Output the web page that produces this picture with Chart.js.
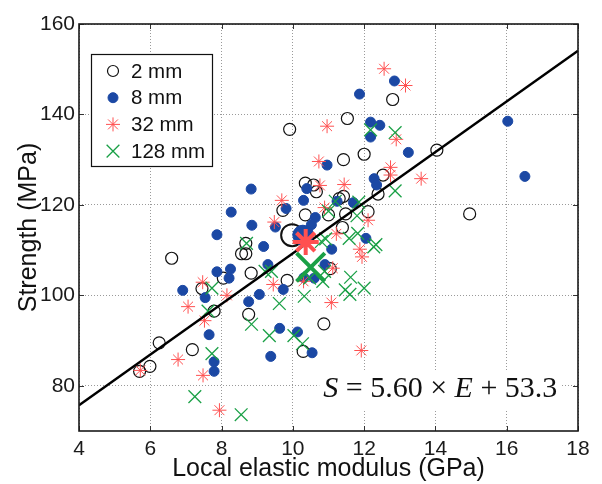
<!DOCTYPE html>
<html>
<head>
<meta charset="utf-8">
<script src="https://cdn.jsdelivr.net/npm/chart.js@4/dist/chart.umd.min.js"></script>
<style>
  html, body { margin: 0; padding: 0; background: #fff; }
  #wrap { width: 602px; height: 484px; position: relative; }
</style>
</head>
<body>
<div id="wrap"><canvas id="c" width="602" height="484"></canvas></div>
<script>
// Axis ticks
const xTicks = [4, 6, 8, 10, 12, 14, 16, 18];
const yTicks = [80, 100, 120, 140, 160];
const seriesNames = ['2 mm', '8 mm', '32 mm', '128 mm'];

// 2 mm specimens: local modulus (GPa) / strength (MPa)
const e2 = [12.80, 11.53, 9.91, 14.04, 12.00, 11.42, 12.53, 10.35, 10.58, 10.66, 11.42, 12.39, 12.11, 11.48, 10.35, 11.00, 14.96, 9.72, 11.39, 8.68, 8.56, 8.68, 6.60, 11.05, 8.83, 8.05, 9.84, 7.45, 7.79, 8.76, 10.87, 6.25, 7.18, 10.29, 5.99, 5.70, 11.30];
const s2 = [143.3, 139.1, 136.7, 132.1, 131.2, 130.0, 126.6, 124.8, 124.4, 122.9, 121.9, 122.4, 118.5, 118.0, 117.8, 117.8, 118.0, 118.8, 115.0, 111.5, 109.2, 109.2, 108.2, 105.9, 104.9, 103.8, 103.3, 101.5, 96.5, 95.8, 93.7, 89.5, 88.0, 87.6, 84.3, 83.2, 121.4];

// 8 mm specimens
const e8 = [12.85, 11.87, 12.18, 12.44, 12.18, 13.24, 10.96, 16.03, 16.51, 12.28, 12.35, 10.39, 8.83, 10.30, 11.24, 11.70, 9.81, 8.27, 10.63, 10.52, 8.85, 9.51, 7.87, 12.05, 9.18, 11.09, 6.91, 7.87, 8.25, 8.21, 9.30, 10.90, 10.31, 10.60, 9.73, 9.06, 7.54, 8.76, 7.65, 9.63, 10.13, 9.38, 10.54, 7.79, 7.79, 10.15, 10.26, 10.42];
const s8 = [147.4, 144.5, 138.3, 137.6, 135.0, 131.6, 128.8, 138.5, 126.3, 125.8, 124.4, 123.6, 123.5, 121.0, 120.8, 120.5, 119.2, 118.4, 117.2, 115.6, 115.5, 115.1, 113.4, 112.6, 110.8, 110.2, 101.1, 105.2, 105.8, 103.8, 106.8, 106.8, 103.9, 103.8, 101.3, 100.2, 99.5, 98.6, 91.3, 92.7, 91.9, 86.5, 87.3, 85.3, 83.2, 113.6, 114.3, 114.0];

// 32 mm specimens
const e32 = [12.56, 13.16, 10.96, 12.90, 10.73, 12.74, 12.74, 13.60, 11.44, 10.76, 9.69, 10.89, 9.48, 12.11, 11.22, 11.88, 11.94, 9.45, 10.30, 8.15, 7.47, 7.06, 7.52, 11.08, 11.92, 6.78, 7.48, 7.94, 5.72, 11.12];
const s32 = [150.1, 146.4, 137.4, 134.5, 129.6, 128.3, 126.6, 125.8, 124.5, 124.3, 121.0, 119.4, 116.2, 116.6, 113.6, 110.2, 108.5, 102.4, 103.1, 100.0, 102.9, 97.5, 94.4, 98.4, 87.8, 85.8, 82.3, 74.6, 83.4, 106.0];

// 128 mm specimens
const e128 = [12.18, 12.87, 12.87, 11.19, 11.85, 11.00, 11.80, 11.82, 10.92, 12.27, 12.33, 8.70, 7.73, 7.62, 9.22, 9.40, 11.62, 10.47, 10.84, 11.47, 11.60, 12.00, 10.32, 9.62, 8.84, 9.34, 10.03, 10.27, 7.73, 7.25, 8.55, 10.80, 11.58, 10.89];
const s128 = [136.6, 136.0, 123.1, 120.8, 120.6, 118.6, 117.6, 113.7, 112.5, 110.7, 111.2, 111.5, 101.6, 96.5, 105.3, 105.3, 104.0, 103.8, 103.1, 101.2, 100.2, 101.6, 99.8, 98.2, 93.6, 91.1, 91.1, 89.3, 87.1, 77.6, 73.6, 111.9, 112.6, 105.3];

// Group means, one per gauge length
const meanE = [9.98, 10.28, 10.36, 10.50];
const meanS = [113.3, 113.3, 111.8, 106.2];

// Linear fit S = a*E + b
const fitSlope = 5.60;
const fitIntercept = 53.3;

const colBlack = '#111111';
const colBlue = '#1b48a4';
const colRed = '#ff5050';
const colGreen = '#1aa046';
const tickFont = { family: '"Liberation Sans", Arial, sans-serif', size: 21 };
const titleFont = { family: '"Liberation Sans", Arial, sans-serif', size: 25 };
const plotRight = 589;

const zip = (xs, ys) => xs.map((x, i) => ({ x: x, y: ys[i] }));
const fitPoints = [xTicks[0], xTicks[xTicks.length - 1]].map(e => ({ x: e, y: fitSlope * e + fitIntercept }));

// Black frame and inward tick marks
const frame = {
  id: 'frame',
  afterDatasetsDraw(chart) {
    const { ctx, chartArea: a, scales } = chart;
    ctx.save();
    ctx.strokeStyle = '#333';
    ctx.lineWidth = 1;
    ctx.beginPath();
    const tl = 5;
    xTicks.forEach(v => {
      const px = Math.round(scales.x.getPixelForValue(v)) + 0.5;
      ctx.moveTo(px, a.bottom); ctx.lineTo(px, a.bottom - tl);
      ctx.moveTo(px, a.top); ctx.lineTo(px, a.top + tl);
    });
    yTicks.forEach(v => {
      const py = Math.round(scales.y.getPixelForValue(v)) + 0.5;
      ctx.moveTo(a.left, py); ctx.lineTo(a.left + tl, py);
      ctx.moveTo(a.right, py); ctx.lineTo(a.right - tl, py);
    });
    ctx.stroke();
    ctx.restore();
  },
  afterDraw(chart) {
    const { ctx, chartArea: a } = chart;
    ctx.save();
    ctx.strokeStyle = '#1a1a1a';
    ctx.lineWidth = 1.6;
    ctx.strokeRect(a.left, a.top, a.right - a.left, a.bottom - a.top);
    ctx.restore();
  }
};

// Fit equation, set in a serif face on a white patch
const equation = {
  id: 'equation',
  afterDatasetsDraw(chart) {
    const { ctx, scales } = chart;
    const xr = scales.x.getPixelForValue(17.42);
    const yb = scales.y.getPixelForValue(77.45);
    const parts = [['S', true], [' = 5.60 \u00d7 ', false], ['E', true], [' + 53.3', false]];
    const fam = '"Liberation Serif", "Times New Roman", serif';
    ctx.save();
    let total = 0;
    const widths = parts.map(p => {
      ctx.font = (p[1] ? 'italic ' : '') + '30px ' + fam;
      const w = ctx.measureText(p[0]).width;
      total += w;
      return w;
    });
    const x0 = xr - total;
    ctx.fillStyle = '#ffffff';
    ctx.fillRect(x0 - 4, yb - 26, total + 7, 38);
    ctx.fillStyle = '#111';
    ctx.textBaseline = 'alphabetic';
    ctx.textAlign = 'left';
    let x = x0;
    parts.forEach((p, i) => {
      ctx.font = (p[1] ? 'italic ' : '') + '30px ' + fam;
      ctx.fillText(p[0], x, yb);
      x += widths[i];
    });
    ctx.restore();
  }
};

// Boxed legend in the upper-left of the plot
const markerStyles = [
  { style: 'circle', r: 5.5, fill: null, stroke: colBlack, lw: 1.2 },
  { style: 'circle', r: 5, fill: colBlue, stroke: colBlue, lw: 1 },
  { style: 'star', r: 7, fill: null, stroke: colRed, lw: 1 },
  { style: 'crossRot', r: 9, fill: null, stroke: colGreen, lw: 1.3 }
];
function drawMarker(ctx, m, x, y) {
  ctx.beginPath();
  ctx.lineWidth = m.lw;
  ctx.strokeStyle = m.stroke;
  if (m.style === 'circle') {
    ctx.arc(x, y, m.r, 0, Math.PI * 2);
    if (m.fill) { ctx.fillStyle = m.fill; ctx.fill(); }
    ctx.stroke();
    return;
  }
  const arms = m.style === 'star' ? [0, 45, 90, 135] : [45, 135];
  arms.forEach(d => {
    const t = d * Math.PI / 180;
    const dx = Math.cos(t) * m.r, dy = Math.sin(t) * m.r;
    ctx.moveTo(x - dx, y - dy); ctx.lineTo(x + dx, y + dy);
  });
  ctx.stroke();
}
const legendBox = {
  id: 'legendBox',
  afterDraw(chart) {
    const ctx = chart.ctx;
    ctx.save();
    const bx = 91.5, by = 54.5, bw = 121, bh = 112;
    ctx.fillStyle = '#fff';
    ctx.fillRect(bx, by, bw, bh);
    ctx.strokeStyle = '#111';
    ctx.lineWidth = 1.2;
    ctx.strokeRect(bx, by, bw, bh);
    ctx.font = '20.5px "Liberation Sans", Arial, sans-serif';
    ctx.textBaseline = 'middle';
    ctx.textAlign = 'left';
    seriesNames.forEach((name, i) => {
      const y = 71 + i * 26.7;
      drawMarker(ctx, markerStyles[i], 113, y);
      ctx.fillStyle = '#111';
      ctx.fillText(name, 131, y + 1);
    });
    ctx.restore();
  }
};

const smallSets = [
  { data: zip(e2, s2), pointStyle: 'circle', pointRadius: 6, borderColor: colBlack, backgroundColor: 'rgba(0,0,0,0)', borderWidth: 1.2, order: 10 },
  { data: zip(e8, s8), pointStyle: 'circle', pointRadius: 5, borderColor: colBlue, backgroundColor: colBlue, borderWidth: 1, order: 9 },
  { data: zip(e32, s32), pointStyle: 'star', pointRadius: 7, borderColor: colRed, backgroundColor: colRed, borderWidth: 1, order: 8 },
  { data: zip(e128, s128), pointStyle: 'crossRot', pointRadius: 9, borderColor: colGreen, backgroundColor: colGreen, borderWidth: 1.3, order: 7 }
];
const meanSets = [
  { data: [{ x: meanE[0], y: meanS[0] }], pointStyle: 'circle', pointRadius: 11, borderColor: colBlack, backgroundColor: 'rgba(0,0,0,0)', borderWidth: 2, order: 5 },
  { data: [{ x: meanE[1], y: meanS[1] }], pointStyle: 'circle', pointRadius: 10, borderColor: colBlue, backgroundColor: colBlue, borderWidth: 1, order: 4 },
  { data: [{ x: meanE[2], y: meanS[2] }], pointStyle: 'star', pointRadius: 13, borderColor: colRed, backgroundColor: colRed, borderWidth: 4, order: 3 },
  { data: [{ x: meanE[3], y: meanS[3] }], pointStyle: 'crossRot', pointRadius: 20, borderColor: colGreen, backgroundColor: colGreen, borderWidth: 4, order: 2 }
];
const fitSet = { type: 'line', data: fitPoints, showLine: true, borderColor: '#000', borderWidth: 2.4, pointRadius: 0, fill: false, order: 6 };

const datasets = [...smallSets, fitSet, ...meanSets].map(d => Object.assign({ showLine: false, pointHoverRadius: d.pointRadius }, d));

const chart = new Chart(document.getElementById('c'), {
  type: 'scatter',
  data: { datasets: datasets },
  options: {
    responsive: false,
    animation: false,
    devicePixelRatio: 1,
    layout: { padding: { left: 0, top: 20, right: 602 - plotRight, bottom: 0 } },
    plugins: { legend: { display: false }, tooltip: { enabled: false } },
    scales: {
      x: {
        type: 'linear', min: 4, max: 18,
        afterBuildTicks: s => { s.ticks = xTicks.map(v => ({ value: v })); },
        // the last tick label may hang past the plot edge
        afterFit: s => { s.height = 53; s.paddingLeft = 0; s.paddingRight = 0; },
        grid: { color: '#9a9a9a', lineWidth: 1, drawTicks: false },
        border: { display: false, dash: [1, 2] },
        ticks: { font: tickFont, color: '#1a1a1a', padding: 6, maxRotation: 0 },
        title: { display: true, text: 'Local elastic modulus (GPa)', font: titleFont, color: '#111', padding: { top: 0, bottom: 0 } }
      },
      y: {
        type: 'linear', min: 70, max: 160,
        afterBuildTicks: s => { s.ticks = yTicks.map(v => ({ value: v })); },
        afterFit: s => { s.width = 79; s.paddingTop = 0; s.paddingBottom = 0; },
        grid: { color: '#9a9a9a', lineWidth: 1, drawTicks: false },
        border: { display: false, dash: [1, 2] },
        ticks: { font: tickFont, color: '#1a1a1a', padding: 4 },
        title: { display: true, text: 'Strength (MPa)', font: titleFont, color: '#111', padding: { top: 14, bottom: 0 } }
      }
    }
  },
  plugins: [frame, equation, legendBox]
});

// Keep the plot's right edge where intended
for (let k = 0; k < 4; k++) {
  const d = plotRight - chart.chartArea.right;
  if (Math.abs(d) < 0.5) break;
  const pad = chart.options.layout.padding;
  pad.right = Math.max(-15, pad.right - d);
  chart.update();
}
</script>
</body>
</html>
